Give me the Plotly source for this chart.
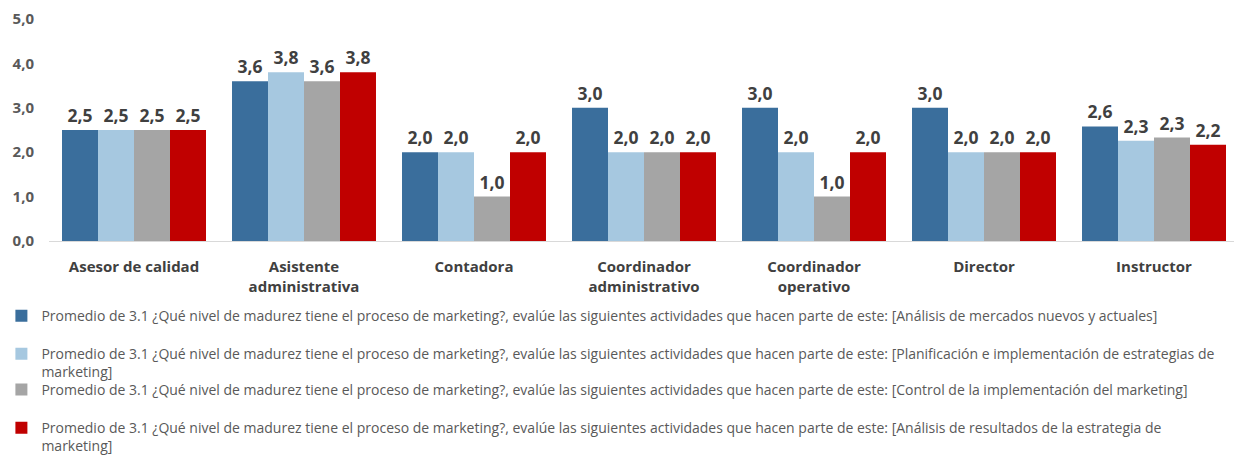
import plotly.graph_objects as go

categories = ["Asesor de calidad", "Asistente<br>administrativa", "Contadora",
              "Coordinador<br>administrativo", "Coordinador<br>operativo", "Director", "Instructor"]

series_names = [
    "Promedio de 3.1 ¿Qué nivel de madurez tiene el proceso de marketing?, evalúe las siguientes actividades que hacen parte de este: [Análisis de mercados nuevos y actuales]",
    "Promedio de 3.1 ¿Qué nivel de madurez tiene el proceso de marketing?, evalúe las siguientes actividades que hacen parte de este: [Planificación e implementación de estrategias de<br>marketing]",
    "Promedio de 3.1 ¿Qué nivel de madurez tiene el proceso de marketing?, evalúe las siguientes actividades que hacen parte de este: [Control de la implementación del marketing]",
    "Promedio de 3.1 ¿Qué nivel de madurez tiene el proceso de marketing?, evalúe las siguientes actividades que hacen parte de este: [Análisis de resultados de la estrategia de<br>marketing]",
]

analisis_mercados = [2.5, 3.6, 2.0, 3.0, 3.0, 3.0, 2.58]
planificacion = [2.5, 3.8, 2.0, 2.0, 2.0, 2.0, 2.26]
control = [2.5, 3.6, 1.0, 2.0, 1.0, 2.0, 2.33]
resultados = [2.5, 3.8, 2.0, 2.0, 2.0, 2.0, 2.17]

colors = ["#3A6E9C", "#A6C8E0", "#A5A5A5", "#C00000"]
legend_ids = ["legend", "legend2", "legend3", "legend4"]
legend_y = [-0.338, -0.55, -0.671, -0.883]

fig = go.Figure()
for name, vals, col, lid in zip(series_names, [analisis_mercados, planificacion, control, resultados], colors, legend_ids):
    fig.add_trace(go.Bar(
        x=categories, y=vals, name=name, marker_color=col, marker_line_width=0,
        text=[f"{v:.1f}".replace(".", ",") for v in vals], textposition="outside",
        textfont=dict(size=17.5, color="#404040", family="Open Sans", weight="bold"),
        cliponaxis=False, legend=lid,
    ))

legend_common = dict(orientation="v", x=-0.04, xanchor="left", yanchor="middle",
                     font=dict(size=14, color="#595959", family="Open Sans"),
                     itemwidth=30, valign="top", bgcolor="rgba(0,0,0,0)")

fig.update_layout(
    width=1234, height=447,
    margin=dict(l=41, r=3, t=11, b=214, autoexpand=False),
    plot_bgcolor="white", paper_bgcolor="white",
    barmode="group", bargap=0.153, bargroupgap=0,
    separators=",.",
    font=dict(family="Open Sans", color="#595959"),
    xaxis=dict(showline=True, linecolor="#D9D9D9", linewidth=1, ticks="",
               ticklabelstandoff=12, automargin=False,
               tickfont=dict(size=15, color="#404040", weight="bold")),
    yaxis=dict(range=[0, 5], dtick=1, tickformat=".1f", showgrid=False, zeroline=False,
               ticklabelstandoff=14, automargin=False,
               tickfont=dict(size=15, color="#595959", weight="bold")),
    legend=dict(y=legend_y[0], **legend_common),
    legend2=dict(y=legend_y[1], **legend_common),
    legend3=dict(y=legend_y[2], **legend_common),
    legend4=dict(y=legend_y[3], **legend_common),
    showlegend=True,
)

fig.write_html("out.html")
